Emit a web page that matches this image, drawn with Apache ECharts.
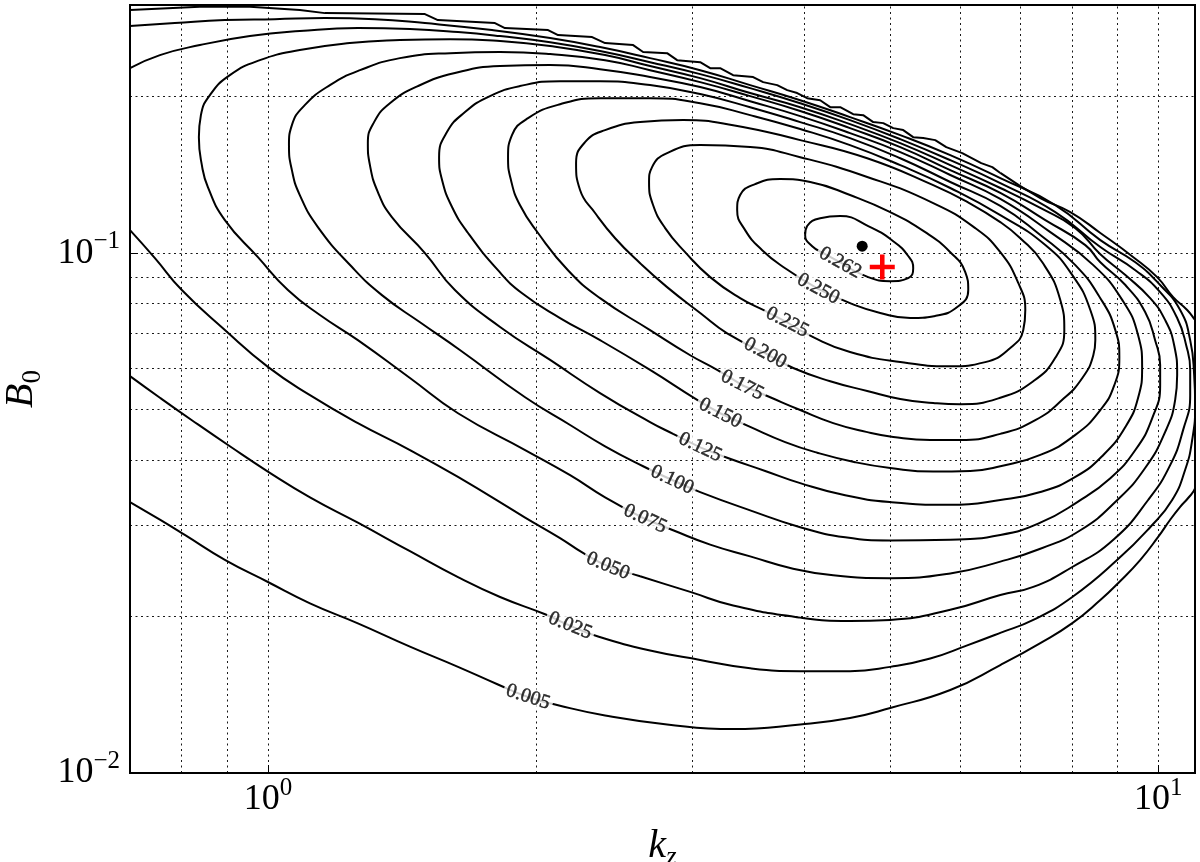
<!DOCTYPE html>
<html>
<head>
<meta charset="utf-8">
<script src="https://cdn.jsdelivr.net/npm/echarts@6/dist/echarts.min.js"></script>
<style>
html,body{margin:0;padding:0;background:#fff;}
#chart{width:1200px;height:862px;}
</style>
</head>
<body>
<div id="chart"></div>
<script>
// ---- data (kz, B0) ----
const levels = ['0.262','0.250','0.225','0.200','0.175','0.150','0.125','0.100','0.075','0.050','0.025','0.005'];

const c0262 = [[4.394,0.0960],[4.724,0.0899],[5.001,0.0883],[5.239,0.0895],[5.307,0.0935],[5.239,0.0987],[5.040,0.1054],[4.724,0.1127],[4.394,0.1178],[4.172,0.1167],[4.034,0.1127],[4.013,0.1083],[4.087,0.1031],[4.227,0.0995],[4.394,0.0960]];

const c0250 = [[4.151,0.0853],[4.507,0.0801],[4.873,0.0767],[5.266,0.0750],[5.618,0.0757],[5.963,0.0790],[6.119,0.0849],[6.072,0.0919],[5.841,0.1004],[5.475,0.1097],[5.001,0.1199],[4.507,0.1293],[4.066,0.1370],[3.762,0.1388],[3.526,0.1357],[3.392,0.1293],[3.366,0.1210],[3.436,0.1107],[3.591,0.1013],[3.811,0.0935],[4.151,0.0853]];

const c0225 = [[3.831,0.0736],[4.097,0.0689],[4.507,0.0645],[5.132,0.0617],[5.841,0.0606],[6.394,0.0617],[6.822,0.0657],[7.055,0.0711],[7.092,0.0777],[6.964,0.0876],[6.648,0.1004],[6.231,0.1117],[5.589,0.1248],[4.712,0.1401],[3.962,0.1529],[3.481,0.1599],[3.059,0.1613],[2.808,0.1557],[2.701,0.1463],[2.680,0.1370],[2.708,0.1237],[2.794,0.1117],[2.942,0.1004],[3.139,0.0899],[3.392,0.0819],[3.619,0.0774],[3.831,0.0736]];

const c0200 = [[3.619,0.0642],[3.891,0.0601],[4.282,0.0567],[4.712,0.0543],[5.132,0.0524],[5.589,0.0515],[5.994,0.0512],[6.648,0.0527],[7.240,0.0567],[7.664,0.0629],[7.845,0.0711],[7.764,0.0812],[7.411,0.0960],[7.001,0.1068],[6.648,0.1147],[6.103,0.1254],[5.589,0.1351],[4.712,0.1522],[3.962,0.1649],[3.331,0.1762],[2.927,0.1802],[2.619,0.1786],[2.392,0.1724],[2.271,0.1634],[2.219,0.1489],[2.242,0.1322],[2.331,0.1194],[2.455,0.1068],[2.619,0.0956],[2.808,0.0860],[3.059,0.0767],[3.280,0.0701],[3.619,0.0642]];

const c0175 = [[3.410,0.0557],[3.666,0.0528],[3.962,0.0499],[4.315,0.0471],[4.700,0.0453],[5.040,0.0443],[5.546,0.0437],[5.994,0.0437],[6.648,0.0449],[7.278,0.0477],[7.804,0.0522],[8.219,0.0575],[8.456,0.0636],[8.500,0.0680],[8.391,0.0777],[8.009,0.0907],[7.469,0.1036],[6.648,0.1183],[5.841,0.1334],[5.132,0.1476],[4.507,0.1613],[3.962,0.1732],[3.481,0.1842],[3.059,0.1942],[2.687,0.1986],[2.361,0.1986],[2.129,0.1933],[1.960,0.1818],[1.880,0.1686],[1.861,0.1529],[1.875,0.1382],[1.919,0.1237],[2.011,0.1093],[2.173,0.0927],[2.361,0.0819],[2.687,0.0711],[2.981,0.0636],[3.196,0.0596],[3.410,0.0557]];

const c0150 = [[3.221,0.0492],[3.481,0.0463],[3.811,0.0433],[4.140,0.0413],[4.567,0.0396],[5.001,0.0386],[5.589,0.0380],[6.151,0.0381],[6.648,0.0389],[7.373,0.0409],[8.072,0.0447],[8.611,0.0499],[8.928,0.0557],[9.045,0.0630],[8.952,0.0711],[8.611,0.0819],[8.072,0.0948],[7.373,0.1083],[6.648,0.1232],[5.841,0.1370],[5.132,0.1522],[4.507,0.1664],[3.962,0.1786],[3.481,0.1908],[3.059,0.2022],[2.687,0.2104],[2.361,0.2141],[2.129,0.2141],[1.919,0.2095],[1.776,0.2004],[1.665,0.1867],[1.589,0.1709],[1.557,0.1529],[1.569,0.1382],[1.610,0.1226],[1.678,0.1093],[1.813,0.0927],[1.930,0.0837],[2.129,0.0750],[2.361,0.0680],[2.687,0.0596],[3.035,0.0522],[3.221,0.0492]];

const c0125 = [[3.059,0.0423],[3.280,0.0404],[3.619,0.0381],[3.962,0.0361],[4.451,0.0342],[5.001,0.0332],[5.841,0.0328],[6.648,0.0335],[7.373,0.0347],[8.072,0.0371],[8.678,0.0409],[9.187,0.0463],[9.495,0.0527],[9.594,0.0604],[9.495,0.0695],[9.116,0.0812],[8.456,0.0948],[7.566,0.1097],[6.648,0.1271],[5.841,0.1413],[5.132,0.1564],[4.507,0.1701],[3.962,0.1834],[3.481,0.1959],[3.059,0.2086],[2.687,0.2180],[2.361,0.2258],[2.075,0.2299],[1.823,0.2289],[1.622,0.2219],[1.474,0.2095],[1.371,0.1942],[1.316,0.1786],[1.295,0.1627],[1.302,0.1476],[1.329,0.1310],[1.378,0.1173],[1.501,0.1000],[1.622,0.0849],[1.823,0.0721],[2.075,0.0623],[2.361,0.0538],[2.687,0.0473],[2.852,0.0449],[3.059,0.0423]];

const c0100 = [[2.845,0.0366],[3.059,0.0347],[3.481,0.0320],[3.962,0.0297],[4.451,0.0284],[5.001,0.0280],[5.841,0.0281],[6.648,0.0287],[7.373,0.0303],[8.114,0.0332],[8.837,0.0369],[9.427,0.0418],[9.846,0.0481],[10.052,0.0557],[10.052,0.0609],[9.922,0.0680],[9.669,0.0770],[9.187,0.0868],[8.611,0.0960],[8.283,0.1036],[7.469,0.1157],[6.648,0.1305],[5.841,0.1444],[5.132,0.1599],[4.507,0.1739],[3.962,0.1876],[3.481,0.2004],[3.059,0.2132],[2.687,0.2248],[2.392,0.2350],[2.075,0.2414],[1.823,0.2436],[1.602,0.2424],[1.407,0.2371],[1.269,0.2248],[1.174,0.2104],[1.100,0.1925],[1.064,0.1762],[1.056,0.1613],[1.064,0.1444],[1.086,0.1293],[1.138,0.1122],[1.243,0.0940],[1.343,0.0830],[1.482,0.0736],[1.643,0.0651],[1.945,0.0528],[2.185,0.0467],[2.392,0.0425],[2.639,0.0389],[2.845,0.0366]];

const c0075 = [[2.653,0.0308],[2.852,0.0293],[3.139,0.0275],[3.481,0.0261],[3.861,0.0248],[4.315,0.0240],[5.001,0.0237],[5.841,0.0242],[6.648,0.0255],[7.373,0.0270],[8.177,0.0293],[8.998,0.0335],[9.669,0.0386],[10.184,0.0453],[10.450,0.0522],[10.504,0.0583],[10.423,0.0665],[10.184,0.0743],[9.795,0.0819],[9.187,0.0907],[8.611,0.0995],[8.072,0.1117],[7.373,0.1221],[6.648,0.1334],[5.841,0.1476],[5.132,0.1627],[4.507,0.1770],[3.962,0.1908],[3.481,0.2031],[3.059,0.2170],[2.687,0.2289],[2.392,0.2403],[2.075,0.2501],[1.823,0.2557],[1.602,0.2579],[1.407,0.2568],[1.236,0.2534],[1.086,0.2457],[0.9795,0.2350],[0.9063,0.2199],[0.8607,0.2013],[0.8409,0.1842],[0.8365,0.1671],[0.8430,0.1476],[0.8562,0.1339],[0.8947,0.1157],[0.9745,0.0982],[1.0531,0.0849],[1.144,0.0760],[1.262,0.0680],[1.444,0.0575],[1.635,0.0492],[1.945,0.0418],[2.185,0.0374],[2.392,0.0339],[2.653,0.0308]];

const c0050 = [[0.700,0.1107],[0.7466,0.0978],[0.8004,0.0849],[0.8947,0.0711],[1.000,0.0604],[1.115,0.0533],[1.262,0.0471],[1.444,0.0418],[1.635,0.0371],[1.945,0.0310],[2.129,0.0283],[2.259,0.0265],[2.410,0.0250],[2.619,0.0239],[2.981,0.0223],[3.331,0.0210],[3.962,0.0199],[4.507,0.0196],[5.001,0.0197],[5.841,0.0206],[6.648,0.0220],[7.240,0.0228],[8.009,0.0249],[8.906,0.0281],[9.744,0.0335],[10.316,0.0391],[10.668,0.0457],[10.864,0.0533],[10.864,0.0596],[10.752,0.0665],[10.504,0.0750],[10.052,0.0841],[9.427,0.0927],[8.611,0.1027],[7.664,0.1199],[6.648,0.1363],[5.841,0.1509],[5.132,0.1656],[4.507,0.1802],[3.962,0.1942],[3.481,0.2076],[3.059,0.2209],[2.687,0.2329],[2.361,0.2446],[2.075,0.2545],[1.823,0.2614],[1.635,0.2661],[1.444,0.2697],[1.262,0.2709],[1.086,0.2673],[0.9545,0.2614],[0.8387,0.2512],[0.7563,0.2403],[0.700,0.2268]];

const c0025 = [[0.700,0.0580],[0.7563,0.0527],[0.8215,0.0477],[0.9063,0.0425],[1.000,0.0380],[1.115,0.0339],[1.262,0.0303],[1.444,0.0267],[1.635,0.0238],[1.823,0.0218],[2.048,0.0202],[2.185,0.0192],[2.349,0.0183],[2.687,0.0172],[3.059,0.0165],[3.481,0.0159],[3.962,0.0157],[4.507,0.0157],[5.001,0.0160],[5.546,0.0166],[6.103,0.0176],[6.648,0.0186],[7.240,0.0197],[8.009,0.0218],[8.998,0.0257],[9.795,0.0297],[10.369,0.0335],[10.724,0.0383],[10.920,0.0437],[11.005,0.0510],[10.976,0.0583],[10.864,0.0680],[10.586,0.0777],[10.052,0.0868],[9.427,0.0960],[8.611,0.1059],[7.664,0.1237],[6.648,0.1394],[5.841,0.1543],[5.132,0.1686],[4.507,0.1826],[3.962,0.1968],[3.481,0.2104],[3.059,0.2248],[2.687,0.2371],[2.361,0.2490],[2.075,0.2591],[1.785,0.2685],[1.501,0.2769],[1.319,0.2818],[1.159,0.2831],[1.018,0.2818],[0.8947,0.2806],[0.7860,0.2769],[0.700,0.2733]];

// 0.005: smooth lower/right part, then the stair-stepped upper part
const c0005Lower = [[0.700,0.0332],[0.7563,0.0307],[0.8066,0.0287],[0.8947,0.0257],[1.000,0.0233],[1.115,0.0212],[1.262,0.0194],[1.444,0.0175],[1.635,0.0160],[1.813,0.0148],[1.960,0.0140],[2.118,0.0135],[2.392,0.0129],[2.808,0.0124],[3.331,0.01215],[3.962,0.0124],[4.507,0.01276],[5.001,0.01334],[5.841,0.01444],[6.648,0.01613],[7.373,0.01778],[8.009,0.01942],[8.611,0.02151],[9.021,0.0232],[9.545,0.02568],[10.000,0.02845],[10.316,0.0307],[10.586,0.0325],[10.807,0.0338],[11.005,0.0353],[11.50,0.0437],[11.60,0.0570],[11.35,0.0695],[11.005,0.0743],[10.779,0.0777],[10.396,0.0823],[9.974,0.0899],[9.379,0.0982],[8.611,0.1093],[7.968,0.1199],[7.373,0.1276],[6.648,0.1426]];
const c0005Upper = [[6.648,0.1426],[6.512,0.1463],[6.328,0.1489],[6.025,0.1557],[5.781,0.1599],[5.618,0.1649],[5.446,0.1664],[5.307,0.1671],[5.172,0.1724],[5.040,0.1739],[4.911,0.1778],[4.786,0.1786],[4.663,0.1842],[4.544,0.1850],[4.394,0.1908],[4.282,0.1908],[4.172,0.1968],[4.034,0.1986],[3.931,0.2031],[3.831,0.2058],[3.733,0.2104],[3.600,0.2132],[3.508,0.2180],[3.331,0.2199],[3.221,0.2268],[3.139,0.2268],[3.059,0.2329],[2.882,0.2350],[2.808,0.2424],[2.639,0.2436],[2.572,0.2512],[2.392,0.2534],[2.313,0.2603],[2.118,0.2626],[2.064,0.2685],[1.846,0.2709],[1.799,0.2769],[1.552,0.2806],[1.501,0.2882],[1.159,0.2894],[1.086,0.2933],[0.9545,0.2976],[0.8387,0.2976],[0.700,0.2933]];

// inline contour-label anchors (kz, B0) in the same order as levels
const labelPos = [[4.394,0.0958],[4.151,0.0853],[3.831,0.0736],[3.619,0.0642],[3.410,0.0557],[3.221,0.0492],[3.059,0.0423],[2.845,0.0366],[2.653,0.0308],[2.410,0.0250],[2.185,0.0192],[1.960,0.0140]];
const labelAngles = [-29,-28,-27,-28,-27,-27,-25,-25,-25,-22,-22,-18];

// markers
const blackDot = [[4.651,0.1031]];
const redCross = [[4.899,0.0940]];

// grid line positions
const xGridValues = [0.8,0.9,1,2,3,4,5,6,7,8,9,10];
const yGridValues = [0.02,0.03,0.04,0.05,0.06,0.07,0.08,0.09,0.1,0.2];

// ---- chart ----
const SERIF = 'Liberation Serif';
function powLabel(v) {
  const e = Math.log10(v), r = Math.round(e);
  if (Math.abs(e - r) > 1e-6) return '';
  return '{b|10}{s|' + (r < 0 ? '\u2212' + (-r) : String(r)) + '}';
}
const tickRich = {
  b: { fontFamily: SERIF, fontSize: 36, color: '#000', lineHeight: 48 },
  s: { fontFamily: SERIF, fontSize: 25, color: '#000', lineHeight: 25, verticalAlign: 'top' }
};

const contourSets = [
  { d: c0262, smooth: 0.5 }, { d: c0250, smooth: 0.5 }, { d: c0225, smooth: 0.5 },
  { d: c0200, smooth: 0.5 }, { d: c0175, smooth: 0.5 }, { d: c0150, smooth: 0.5 },
  { d: c0125, smooth: 0.5 }, { d: c0100, smooth: 0.5 }, { d: c0075, smooth: 0.5 },
  { d: c0050, smooth: 0.5 }, { d: c0025, smooth: 0.5 }, { d: c0005Lower, smooth: 0.5 },
  { d: c0005Upper, smooth: false }
];

const series = [];
series.push({
  type: 'line', data: [], silent: true, z: 1,
  markLine: {
    silent: true, symbol: ['none', 'none'], animation: false,
    label: { show: false },
    lineStyle: { color: '#000', width: 1, type: [2, 3.5], opacity: 0.9 },
    emphasis: { disabled: true },
    data: xGridValues.map(v => ({ xAxis: v })).concat(yGridValues.map(v => ({ yAxis: v })))
  }
});
contourSets.forEach(c => {
  series.push({
    type: 'line', data: c.d, smooth: c.smooth, showSymbol: false, symbol: 'none',
    silent: true, z: 3, clip: true,
    lineStyle: { color: '#000', width: 2 }
  });
});
series.push({
  type: 'scatter', z: 6, silent: true, symbolSize: 1,
  itemStyle: { color: 'rgba(0,0,0,0)' },
  data: labelPos.map((p, i) => ({ value: p, label: { rotate: labelAngles[i], formatter: levels[i] } })),
  label: {
    show: true, position: 'inside', fontFamily: SERIF, fontSize: 20, color: '#000',
    textBorderColor: '#000', textBorderWidth: 0.5,
    backgroundColor: '#fff', padding: [0, 3]
  }
});
series.push({
  type: 'scatter', z: 7, silent: true, data: blackDot, symbol: 'circle', symbolSize: 11,
  itemStyle: { color: '#000', opacity: 1 }
});
series.push({
  type: 'scatter', z: 8, silent: true, data: redCross, symbolSize: 25,
  symbol: 'path://M-4,-22L4,-22L4,-4L22,-4L22,4L4,4L4,22L-4,22L-4,4L-22,4L-22,-4L-4,-4Z',
  itemStyle: { color: '#ff0000', opacity: 1 }
});

const option = {
  animation: false,
  backgroundColor: '#fff',
  grid: { left: 130, right: 5, top: 5, bottom: 89, show: true, borderColor: '#000', borderWidth: 2,
          backgroundColor: 'transparent', containLabel: false, outerBoundsMode: 'none' },
  xAxis: {
    type: 'log', logBase: 10, min: 0.7, max: 11,
    axisLine: { show: false },
    axisTick: { show: true, inside: true, length: 8, lineStyle: { color: '#000', width: 1 } },
    splitLine: { show: false },
    axisLabel: { formatter: powLabel, rich: tickRich, margin: 3, color: '#000' },
    name: '{i|k}{sub|z}', nameLocation: 'middle', nameGap: 48,
    nameTextStyle: { rich: {
      i: { fontFamily: SERIF, fontStyle: 'italic', fontSize: 40, lineHeight: 50, color: '#000' },
      sub: { fontFamily: SERIF, fontStyle: 'italic', fontSize: 27, lineHeight: 27, verticalAlign: 'bottom', color: '#000' }
    } }
  },
  yAxis: {
    type: 'log', logBase: 10, min: 0.01, max: 0.3,
    axisLine: { show: false },
    axisTick: { show: true, inside: true, length: 8, lineStyle: { color: '#000', width: 1 } },
    splitLine: { show: false },
    axisLabel: { formatter: powLabel, rich: tickRich, margin: 10, color: '#000' },
    name: '{i|B}{sub|0}', nameLocation: 'middle', nameGap: 78, nameRotate: 90,
    nameTextStyle: { rich: {
      i: { fontFamily: SERIF, fontStyle: 'italic', fontSize: 40, lineHeight: 50, color: '#000' },
      sub: { fontFamily: SERIF, fontSize: 27, lineHeight: 27, verticalAlign: 'bottom', color: '#000' }
    } }
  },
  series: series
};
const chart = echarts.init(document.getElementById('chart'), null, { renderer: 'canvas' });
chart.setOption(option);
</script>
</body>
</html>
